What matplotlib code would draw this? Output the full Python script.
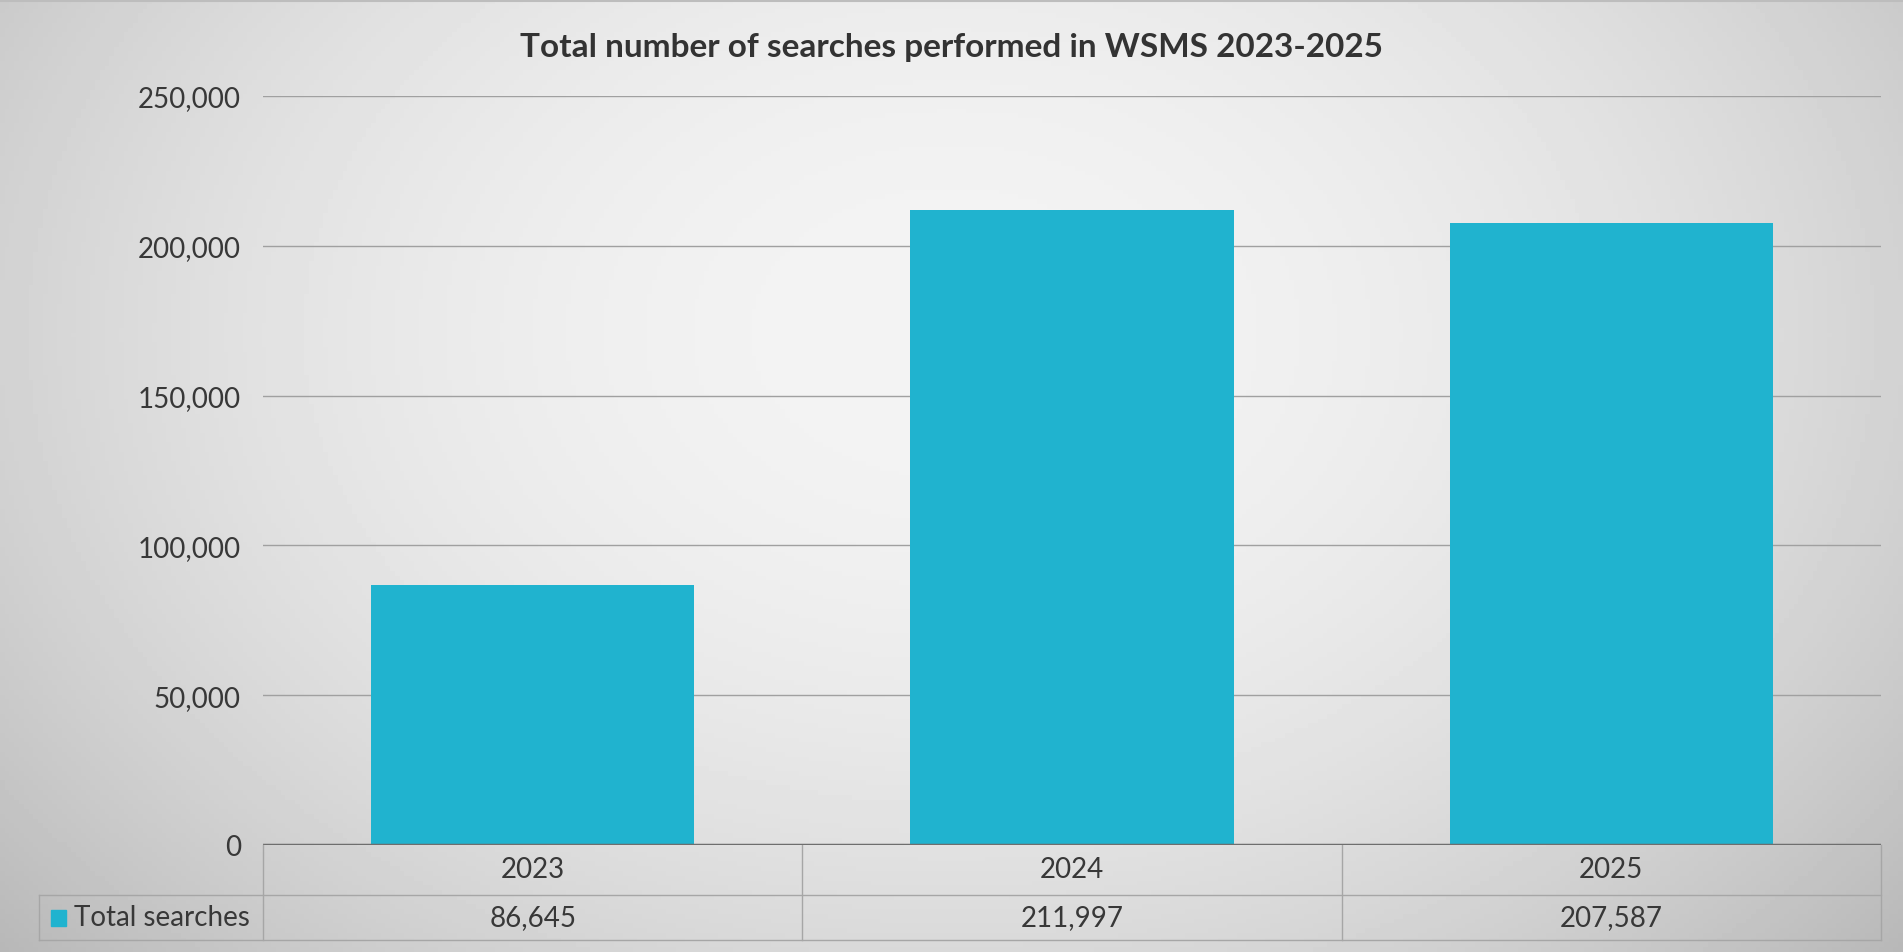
import numpy as np
import matplotlib
matplotlib.use("Agg")
import matplotlib.pyplot as plt
from matplotlib.transforms import blended_transform_factory
from matplotlib.ticker import FuncFormatter

# data
years = ["2023", "2024", "2025"]
searches = [86645, 211997, 207587]
series_name = "Total searches"
title = "Total number of searches performed in WSMS 2023-2025"

bar_color = "#20b3cf"
text_color = "#383838"
line_color = "#a6a6a6"

plt.rcParams['font.family'] = ['Lato', 'DejaVu Sans']

W, H = 1903, 953
fig = plt.figure(figsize=(W / 100, H / 100), dpi=100)

# grey radial background
bg = fig.add_axes([0, 0, 1, 1], zorder=-10)
yy, xx = np.mgrid[0:1:200j, 0:1:400j]
r2 = ((xx - 0.5) / 0.62) ** 2 + ((yy - 0.35) / 0.9) ** 2
shade = 0.955 - 0.20 * r2
bg.imshow(shade, cmap="gray", vmin=0, vmax=1, aspect="auto",
          extent=[0, 1, 0, 1], origin="upper")
bg.set_axis_off()

def px(x, y):
    # pixel (from top-left) to figure fraction
    return x / W, 1 - y / H

left, right = 263, 1881
top, zero = 97, 846
ax = fig.add_axes([left / W, 1 - zero / H, (right - left) / W, (zero - top) / H])
ax.patch.set_alpha(0)

x = np.arange(len(years))
ax.bar(x, searches, width=0.6, color=bar_color, zorder=3)
ax.set_xlim(-0.5, len(years) - 0.5)
ax.set_ylim(0, 250000)
ax.set_yticks(np.arange(0, 250001, 50000))
ax.yaxis.set_major_formatter(FuncFormatter(lambda v, p: f"{int(v):,}"))
ax.tick_params(axis="y", length=0, pad=16, labelsize=20, labelcolor=text_color)
ax.set_xticks([])
ax.grid(axis="y", color="#a0a0a0", linewidth=1.0, zorder=0)
for s in ax.spines.values():
    s.set_visible(False)
ax.axhline(0, color="#6e6e6e", linewidth=2.5, zorder=4)

fig.text(951 / W, 1 - 47 / H, title, ha="center", va="center",
         fontsize=24, fontweight="bold", color="#333333")

# data table under the axis
trans = blended_transform_factory(ax.transData, fig.transFigure)
row1_y, row2_y, bottom_y = 846, 896, 941
legend_left = 39
fl = fig.lines
lw = 1.0
for yv, x0 in [(row2_y, legend_left), (bottom_y, legend_left)]:
    fl.append(plt.Line2D([x0 / W, right / W], [1 - yv / H] * 2, transform=fig.transFigure,
                         color=line_color, linewidth=lw))
for xv, y0 in [(left, row1_y), (right, row1_y), (legend_left, row2_y)]:
    fl.append(plt.Line2D([xv / W] * 2, [1 - y0 / H, 1 - bottom_y / H], transform=fig.transFigure,
                         color=line_color, linewidth=lw))
for i in range(1, len(years)):
    ax.plot([i - 0.5] * 2, [1 - row1_y / H, 1 - bottom_y / H], transform=trans,
            color=line_color, linewidth=lw, clip_on=False)

for i, (yr, v) in enumerate(zip(years, searches)):
    ax.text(i, 1 - 870 / H, yr, transform=trans, ha="center", va="center",
            fontsize=20, color=text_color)
    ax.text(i, 1 - 918 / H, f"{v:,}", transform=trans, ha="center", va="center",
            fontsize=20, color=text_color)

fig.patches.append(plt.Rectangle(px(51, 927), 15 / W, 16 / H, transform=fig.transFigure,
                                 color=bar_color))
fig.text(74 / W, 1 - 918 / H, series_name, ha="left", va="center",
         fontsize=20, color=text_color)

# thin frame line at the top
fl.append(plt.Line2D([0, 1], [1 - 1.5 / H] * 2, transform=fig.transFigure,
                     color="#bdbdbd", linewidth=1.5))

fig.savefig("out.png", dpi=100)
